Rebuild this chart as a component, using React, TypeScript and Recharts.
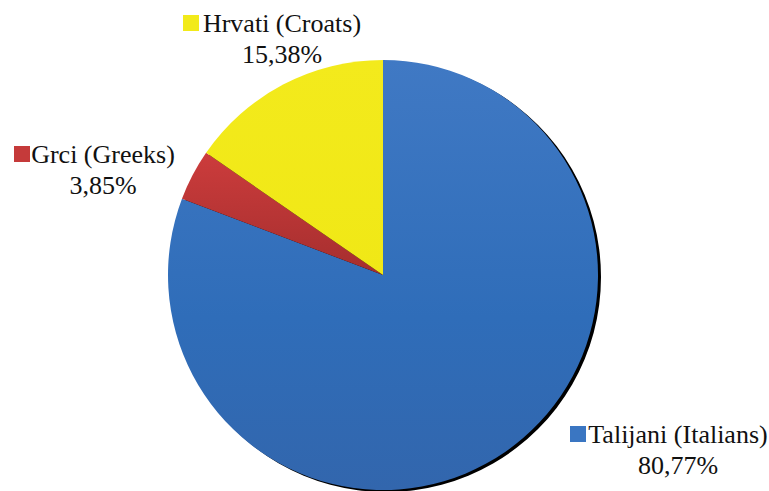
import { Cell, Pie, PieChart } from "recharts";

const names = ["Talijani (Italians)", "Grci (Greeks)", "Hrvati (Croats)"];
const shares = [80.77, 3.85, 15.38];

const data = names.map((name, i) => ({ name, value: shares[i] }));
const fills = ["url(#gBlue)", "url(#gRed)", "url(#gYellow)"];
const swatch = ["#3a76c2", "#c53a3a", "#f2ea1a"];

// label layout: center of the text lines, baseline of line 1, left edge of the swatch
const labelPos = [
  { cx: 678, y: 443, sq: 570 },
  { cx: 103, y: 163, sq: 14 },
  { cx: 282, y: 32, sq: 183 },
];

const FONT = "'Liberation Serif', serif";

function Labels() {
  return (
    <>
      {data.map((d, i) => {
        const p = labelPos[i];
        const pct = d.value.toFixed(2).replace(".", ",") + "%";
        return (
          <div key={d.name}>
            <div
              style={{
                position: "absolute",
                left: p.sq,
                top: p.y - 17,
                width: 16,
                height: 16,
                background: swatch[i],
              }}
            />
            <div
              style={{
                position: "absolute",
                left: p.cx - 150,
                top: p.y - 24,
                width: 300,
                textAlign: "center",
                fontFamily: FONT,
                fontSize: 26,
                lineHeight: "31px",
                color: "#111",
                whiteSpace: "nowrap",
              }}
            >
              {d.name}
              <br />
              {pct}
            </div>
          </div>
        );
      })}
    </>
  );
}

export default function App() {
  return (
    <div style={{ position: "fixed", left: 0, top: 0, width: 769, height: 491, background: "#fff", overflow: "hidden" }}>
      <PieChart width={769} height={491} margin={{ top: 0, right: 0, bottom: 0, left: 0 }}>
        <defs>
          <linearGradient id="gBlue" x1="0" y1="0" x2="0" y2="1">
            <stop offset="0%" stopColor="#4079c4" />
            <stop offset="60%" stopColor="#2f6db9" />
            <stop offset="100%" stopColor="#3266ad" />
          </linearGradient>
          <linearGradient id="gRed" x1="0" y1="0" x2="0" y2="1">
            <stop offset="0%" stopColor="#cc3c3c" />
            <stop offset="100%" stopColor="#a52e2e" />
          </linearGradient>
          <linearGradient id="gYellow" x1="0" y1="0" x2="0" y2="1">
            <stop offset="0%" stopColor="#f3ea1c" />
            <stop offset="100%" stopColor="#f0e816" />
          </linearGradient>
        </defs>
        <Pie
          data={[{ name: "shadow", value: 1 }]}
          dataKey="value"
          cx={386}
          cy={277}
          outerRadius={215}
          stroke="none"
          fill="#000"
          isAnimationActive={false}
        />
        <Pie
          data={data}
          dataKey="value"
          cx={383}
          cy={275}
          outerRadius={215}
          startAngle={90}
          endAngle={-270}
          stroke="none"
          labelLine={false}
          isAnimationActive={false}
        >
          {data.map((d, i) => (
            <Cell key={d.name} fill={fills[i]} />
          ))}
        </Pie>
      </PieChart>
      <Labels />
    </div>
  );
}
